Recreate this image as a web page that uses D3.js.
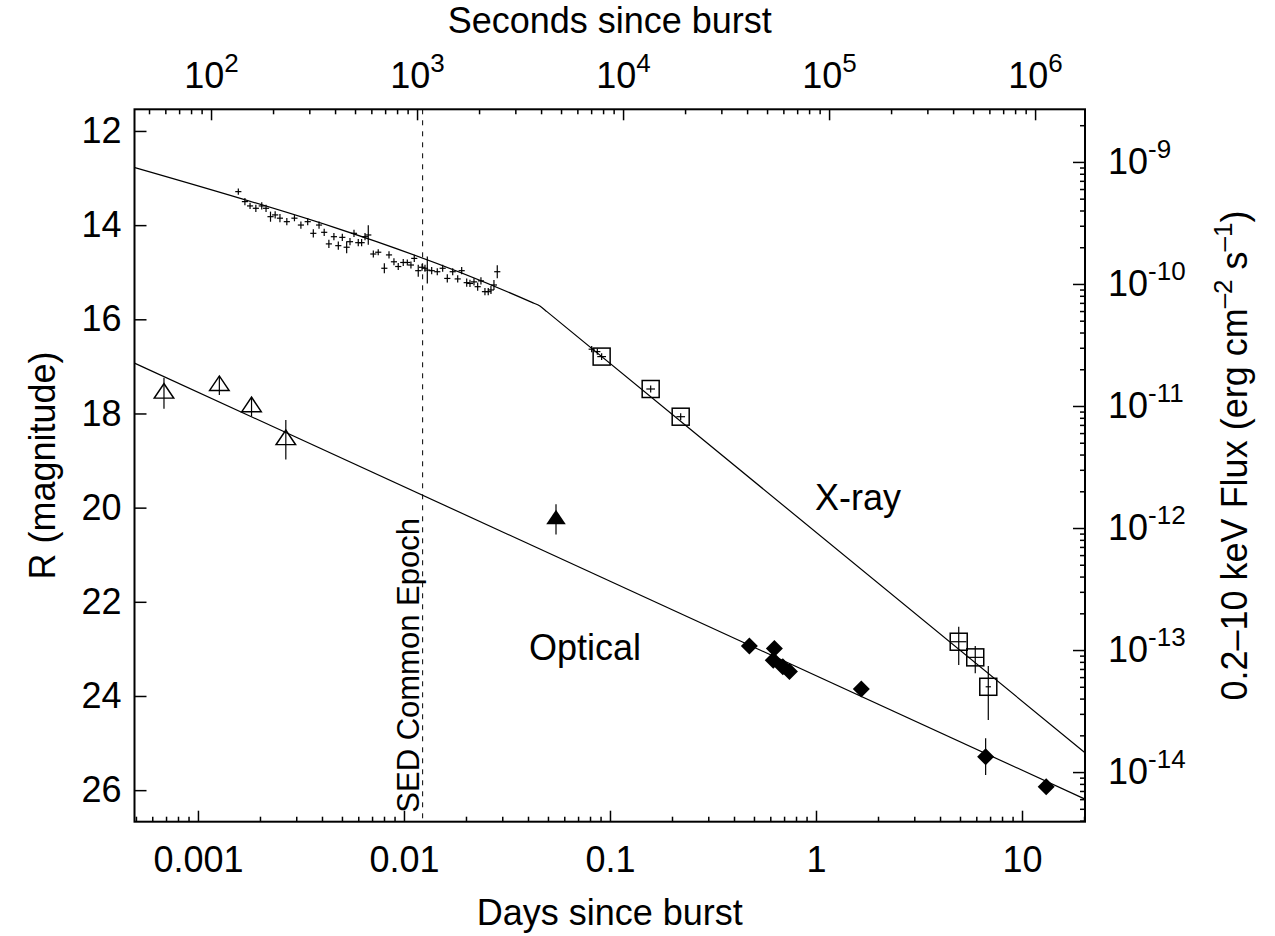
<!DOCTYPE html>
<html>
<head>
<meta charset="utf-8">
<script src="https://cdn.jsdelivr.net/npm/d3@7"></script>
<style>
  body { margin: 0; background: #fff; }
  text { font-family: "Liberation Sans", Arial, Helvetica, sans-serif; fill: #000; }
</style>
</head>
<body>
<div id="chart"></div>
<script>
// plot frame (pixels)
const width = 1275, height = 936;
const plotLeft = 134.5, plotRight = 1085, plotTop = 109.3, plotBottom = 821.7;

// axis ranges
const dayDomain = [0.000492, 20.22];
const magDomain = [11.54, 26.67];
const fluxDomain = [2.70e-9, 3.92e-15];

// tick values
const dayTicks = [0.001, 0.01, 0.1, 1, 10];
const dayTickLabels = ["0.001", "0.01", "0.1", "1", "10"];
const secTicks = [1e2, 1e3, 1e4, 1e5, 1e6];
const magTicks = [12, 14, 16, 18, 20, 22, 24, 26];
const fluxTicks = [1e-9, 1e-10, 1e-11, 1e-12, 1e-13, 1e-14];

// X-ray (dense early data), days / flux / fractional error
const xrayDays = [0.00157, 0.00169, 0.00179, 0.00191, 0.00204, 0.00214, 0.00225, 0.00237, 0.00250, 0.00270,
  0.00294, 0.00316, 0.00341, 0.00363, 0.00387, 0.00410, 0.00432, 0.00457, 0.00480, 0.00502,
  0.00527, 0.00547, 0.00572, 0.00600, 0.00623, 0.00647, 0.00671, 0.00710, 0.00750, 0.00803,
  0.00846, 0.00894, 0.00938, 0.00992, 0.01038, 0.01081, 0.01122, 0.01173, 0.01224, 0.01265,
  0.01298, 0.01363, 0.01451, 0.01541, 0.01623, 0.01724, 0.01823, 0.01906, 0.02016, 0.02091,
  0.02187, 0.02279, 0.02364, 0.02472, 0.02565, 0.02644, 0.02734, 0.02837, 0.0815, 0.0868];
const xrayFlux = [5.71e-10, 4.73e-10, 4.36e-10, 4.17e-10, 4.36e-10, 4.17e-10, 3.56e-10, 3.68e-10, 3.46e-10, 3.24e-10,
  3.46e-10, 3.04e-10, 3.24e-10, 2.60e-10, 3.04e-10, 2.65e-10, 2.13e-10, 2.44e-10, 2.06e-10, 2.41e-10,
  2.00e-10, 2.22e-10, 2.60e-10, 2.18e-10, 2.18e-10, 2.44e-10, 2.52e-10, 1.76e-10, 1.82e-10, 1.345e-10,
  1.73e-10, 1.52e-10, 1.39e-10, 1.50e-10, 1.50e-10, 1.43e-10, 1.62e-10, 1.285e-10, 1.37e-10, 1.345e-10,
  1.30e-10, 1.285e-10, 1.26e-10, 1.345e-10, 1.11e-10, 1.26e-10, 1.10e-10, 1.285e-10, 1.025e-10, 1.01e-10,
  1.04e-10, 9.50e-11, 1.06e-10, 8.65e-11, 8.65e-11, 8.93e-11, 9.81e-11, 1.26e-10, 2.92e-11, 2.79e-11];
const xrayErr = [0.06, 0.07, 0.06, 0.07, 0.07, 0.07, 0.10, 0.07, 0.08, 0.07,
  0.06, 0.07, 0.07, 0.08, 0.07, 0.07, 0.08, 0.07, 0.08, 0.07,
  0.12, 0.07, 0.07, 0.07, 0.07, 0.07, 0.20, 0.07, 0.06, 0.10,
  0.07, 0.07, 0.07, 0.07, 0.06, 0.07, 0.07, 0.12, 0.07, 0.07,
  0.29, 0.07, 0.07, 0.07, 0.08, 0.07, 0.07, 0.07, 0.08, 0.07,
  0.07, 0.08, 0.07, 0.07, 0.07, 0.08, 0.10, 0.13, 0.06, 0.06];
const xrayTimeErr = 0.035;

// X-ray (late, square markers)
const sqDays = [0.0911, 0.1576, 0.2204, 4.93, 5.93, 6.86];
const sqFlux = [2.54e-11, 1.378e-11, 8.17e-12, 1.17e-13, 8.71e-14, 5.00e-14];
const sqFluxLo = [2.38e-11, 1.29e-11, 7.65e-12, 7.53e-14, 6.44e-14, 2.67e-14];
const sqFluxHi = [2.71e-11, 1.47e-11, 8.73e-12, 1.55e-13, 1.08e-13, 7.40e-14];
const sqTimeErr = [0.05, 0.05, 0.05, 0.09, 0.09, 0.03];

// optical, open triangles (early)
const triDays = [0.000684, 0.00127, 0.00182, 0.00267];
const triMag = [17.57, 17.41, 17.86, 18.56];
const triErr = [0.33, 0.20, 0.20, 0.42];

// optical, filled triangle
const ftriDays = [0.0547];
const ftriMag = [20.25];
const ftriErr = [0.32];

// optical, filled diamonds
const dmDays = [0.475, 0.628, 0.620, 0.690, 0.743, 1.66, 6.66, 13.1];
const dmMag = [22.94, 22.99, 23.24, 23.38, 23.48, 23.85, 25.29, 25.93];
const dmErr = [0.10, 0.10, 0.10, 0.10, 0.10, 0.10, 0.39, 0.12];

// fitted models (vertices)
const optFitDays = [0.000492, 20.22];
const optFitMag = [16.93, 26.19];
const xrayFitDays = [0.000494, 0.0418, 0.0457, 0.0494, 20.22];
const xrayFitFlux = [8.98e-10, 7.06e-11, 6.60e-11, 5.93e-11, 1.44e-14];

const sedEpochDays = 0.01232;

// scales
const x = d3.scaleLog().domain(dayDomain).range([plotLeft, plotRight]);
const xs = d3.scaleLog().domain(dayDomain.map(d => d * 86400)).range([plotLeft, plotRight]);
const yMag = d3.scaleLinear().domain(magDomain).range([plotTop, plotBottom]);
const yFlux = d3.scaleLog().domain(fluxDomain).range([plotTop, plotBottom]);

const svg = d3.select("#chart").append("svg")
  .attr("width", width)
  .attr("height", height);

svg.append("rect").attr("width", width).attr("height", height).attr("fill", "#fff");

// minor tick helpers
function minorLog(lo, hi) {
  const out = [];
  for (let e = Math.floor(Math.log10(lo)); e <= Math.ceil(Math.log10(hi)); e++) {
    for (let k = 2; k <= 9; k++) {
      const v = k * Math.pow(10, e);
      if (v > lo && v < hi) out.push(v);
    }
  }
  return out;
}

// fit lines
svg.append("path")
  .datum(optFitDays.map((d, i) => [d, optFitMag[i]]))
  .attr("d", d3.line().x(d => x(d[0])).y(d => yMag(d[1])))
  .attr("fill", "none").attr("stroke", "#000").attr("stroke-width", 1.2);

svg.append("path")
  .datum(xrayFitDays.map((d, i) => [d, xrayFitFlux[i]]))
  .attr("d", d3.line().x(d => x(d[0])).y(d => yFlux(d[1])).curve(d3.curveMonotoneX))
  .attr("fill", "none").attr("stroke", "#000").attr("stroke-width", 1.2);

// SED epoch marker
svg.append("line")
  .attr("x1", x(sedEpochDays)).attr("x2", x(sedEpochDays))
  .attr("y1", plotTop).attr("y2", plotBottom)
  .attr("stroke", "#000").attr("stroke-width", 1)
  .attr("stroke-dasharray", "5,6");

svg.append("text")
  .attr("transform", `translate(${x(sedEpochDays) - 4},${plotBottom - 9}) rotate(-90)`)
  .attr("font-size", 31)
  .text("SED Common Epoch");

// X-ray crosses
const xr = svg.append("g").attr("stroke", "#000").attr("stroke-width", 1.2);
xrayDays.forEach((d, i) => {
  const f = xrayFlux[i], e = xrayErr[i];
  xr.append("line")
    .attr("x1", x(d)).attr("x2", x(d))
    .attr("y1", yFlux(f * (1 + e))).attr("y2", yFlux(f / (1 + e)));
  xr.append("line")
    .attr("x1", x(d / (1 + xrayTimeErr))).attr("x2", x(d * (1 + xrayTimeErr)))
    .attr("y1", yFlux(f)).attr("y2", yFlux(f));
});

// X-ray squares with error bars
const sq = svg.append("g").attr("stroke", "#000");
sqDays.forEach((d, i) => {
  const cx = x(d), cy = yFlux(sqFlux[i]);
  sq.append("line").attr("stroke-width", 1.2)
    .attr("x1", cx).attr("x2", cx)
    .attr("y1", yFlux(sqFluxHi[i])).attr("y2", yFlux(sqFluxLo[i]));
  sq.append("line").attr("stroke-width", 1.2)
    .attr("x1", x(d / (1 + sqTimeErr[i]))).attr("x2", x(d * (1 + sqTimeErr[i])))
    .attr("y1", cy).attr("y2", cy);
  sq.append("rect").attr("fill", "none").attr("stroke-width", 1.5)
    .attr("x", cx - 8.5).attr("y", cy - 8.5).attr("width", 17).attr("height", 17);
});

// optical open triangles
const tri = d3.symbol().type(d3.symbolTriangle).size(150);
const ot = svg.append("g").attr("stroke", "#000");
triDays.forEach((d, i) => {
  const cx = x(d), cy = yMag(triMag[i]);
  ot.append("line").attr("stroke-width", 1.2)
    .attr("x1", cx).attr("x2", cx)
    .attr("y1", yMag(triMag[i] - triErr[i])).attr("y2", yMag(triMag[i] + triErr[i]));
  ot.append("path").attr("d", tri()).attr("fill", "none").attr("stroke-width", 1.5)
    .attr("transform", `translate(${cx},${cy}) scale(1.05,0.9)`);
});

// optical filled triangle
ftriDays.forEach((d, i) => {
  const cx = x(d), cy = yMag(ftriMag[i]);
  svg.append("line").attr("stroke", "#000").attr("stroke-width", 1.2)
    .attr("x1", cx).attr("x2", cx)
    .attr("y1", yMag(ftriMag[i] - ftriErr[i])).attr("y2", yMag(ftriMag[i] + ftriErr[i]));
  svg.append("path").attr("d", tri()).attr("fill", "#000")
    .attr("transform", `translate(${cx},${cy}) scale(1.05,0.9)`);
});

// optical diamonds
const dmd = svg.append("g");
dmDays.forEach((d, i) => {
  const cx = x(d), cy = yMag(dmMag[i]);
  dmd.append("line").attr("stroke", "#000").attr("stroke-width", 1.2)
    .attr("x1", cx).attr("x2", cx)
    .attr("y1", yMag(dmMag[i] - dmErr[i])).attr("y2", yMag(dmMag[i] + dmErr[i]));
  dmd.append("path").attr("fill", "#000")
    .attr("d", `M${cx},${cy - 8.5}L${cx + 8.5},${cy}L${cx},${cy + 8.5}L${cx - 8.5},${cy}Z`);
});

// axes
function styleAxis(g) {
  g.select(".domain").remove();
  g.selectAll(".tick line").attr("stroke", "#000").attr("stroke-width", 1.5);
  g.selectAll(".tick text").attr("font-size", 36).attr("fill", "#000")
    .attr("font-family", '"Liberation Sans", Arial, Helvetica, sans-serif');
}

// bottom: days
svg.append("g").attr("transform", `translate(0,${plotBottom})`)
  .call(d3.axisBottom(x).tickValues(minorLog(dayDomain[0], dayDomain[1])).tickSize(-5).tickSizeOuter(0).tickFormat(""))
  .call(styleAxis);
svg.append("g").attr("transform", `translate(0,${plotBottom})`)
  .call(d3.axisBottom(x).tickValues(dayTicks).tickSize(-11).tickSizeOuter(0).tickPadding(25)
    .tickFormat((d, i) => dayTickLabels[i]))
  .call(styleAxis);

// top: seconds
svg.append("g").attr("transform", `translate(0,${plotTop})`)
  .call(d3.axisTop(xs).tickValues(minorLog(xs.domain()[0], xs.domain()[1])).tickSize(-5).tickSizeOuter(0).tickFormat(""))
  .call(styleAxis);
const topAx = svg.append("g").attr("transform", `translate(0,${plotTop})`)
  .call(d3.axisTop(xs).tickValues(secTicks).tickSize(-11).tickSizeOuter(0).tickPadding(21).tickFormat(""))
  .call(styleAxis);
topAx.selectAll(".tick text").each(function (d) {
  const t = d3.select(this);
  t.text("10");
  t.append("tspan").attr("dy", -16).attr("font-size", 26).text(Math.round(Math.log10(d)));
});

// left: magnitude
svg.append("g").attr("transform", `translate(${plotLeft},0)`)
  .call(d3.axisLeft(yMag).tickValues(magTicks).tickSize(-12).tickSizeOuter(0).tickPadding(13))
  .call(styleAxis);

// right: flux
svg.append("g").attr("transform", `translate(${plotRight},0)`)
  .call(d3.axisRight(yFlux).tickValues(minorLog(fluxDomain[1], fluxDomain[0])).tickSize(-5).tickSizeOuter(0).tickFormat(""))
  .call(styleAxis);
const rightAx = svg.append("g").attr("transform", `translate(${plotRight},0)`)
  .call(d3.axisRight(yFlux).tickValues(fluxTicks).tickSize(-12).tickSizeOuter(0).tickPadding(23).tickFormat(""))
  .call(styleAxis);
rightAx.selectAll(".tick text").each(function (d) {
  const t = d3.select(this);
  t.text("10");
  t.append("tspan").attr("dy", -16).attr("font-size", 26).text(Math.round(Math.log10(d)));
});

// frame
svg.append("rect")
  .attr("x", plotLeft).attr("y", plotTop)
  .attr("width", plotRight - plotLeft).attr("height", plotBottom - plotTop)
  .attr("fill", "none").attr("stroke", "#000").attr("stroke-width", 2);

// titles
svg.append("text").attr("x", (plotLeft + plotRight) / 2).attr("y", 925)
  .attr("text-anchor", "middle").attr("font-size", 36).text("Days since burst");
svg.append("text").attr("x", (plotLeft + plotRight) / 2).attr("y", 33)
  .attr("text-anchor", "middle").attr("font-size", 36).text("Seconds since burst");
svg.append("text")
  .attr("transform", `translate(55,${(plotTop + plotBottom) / 2}) rotate(-90)`)
  .attr("text-anchor", "middle").attr("font-size", 36).text("R (magnitude)");

const rt = svg.append("text")
  .attr("transform", `translate(1247,${(plotTop + plotBottom) / 2 - 10}) rotate(-90)`)
  .attr("text-anchor", "middle").attr("font-size", 36);
rt.append("tspan").text("0.2–10 keV Flux (erg cm");
rt.append("tspan").attr("dy", -15).attr("font-size", 26).text("–2");
rt.append("tspan").attr("dy", 15).text(" s");
rt.append("tspan").attr("dy", -15).attr("font-size", 26).text("–1");
rt.append("tspan").attr("dy", 15).text(")");

// series labels
svg.append("text").attr("x", 815).attr("y", 510).attr("font-size", 36).text("X-ray");
svg.append("text").attr("x", 529).attr("y", 660).attr("font-size", 36).text("Optical");
</script>
</body>
</html>
